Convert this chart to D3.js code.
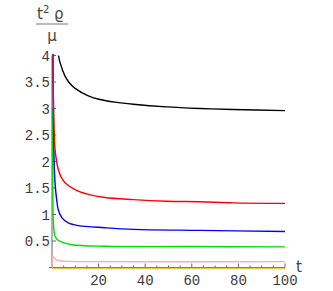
<!DOCTYPE html>
<html>
<head>
<meta charset="utf-8">
<script src="https://cdn.jsdelivr.net/npm/d3@7"></script>
<style>
  body { margin: 0; background: #fff; }
  svg { display: block; }
  .tick-label { font-family: "Liberation Mono", "DejaVu Sans Mono", monospace; font-size: 14px; fill: #3a3a3a; }
  .axis-label { font-family: "DejaVu Sans", sans-serif; font-size: 15px; fill: #444; }
</style>
</head>
<body>
<svg id="chart" width="333" height="291"></svg>
<script>
// values, [t, t^2 rho / mu]
const blackSeries = [[2.8, 4.0], [3.5, 3.86], [5.6, 3.61], [7.5, 3.48], [9.9, 3.38], [15.6, 3.24], [20.6, 3.17], [27, 3.12], [34.9, 3.08], [49.2, 3.03], [63.5, 3.0], [77.7, 2.98], [100, 2.96]];
const redSeries = [[0.35, 4.6], [0.6, 3.2], [0.9, 2.6], [1.3, 2.23], [2.7, 1.85], [4, 1.7], [5.6, 1.6], [9.9, 1.47], [15.6, 1.38], [22.7, 1.32], [34.9, 1.28], [49.2, 1.25], [63.5, 1.24], [77.7, 1.22], [100, 1.21]];
const blueSeries = [[0.35, 4.6], [0.6, 3.0], [0.9, 2.0], [1.3, 1.6], [2, 1.28], [2.7, 1.09], [4.2, 0.94], [7, 0.84], [11.3, 0.79], [22.7, 0.75], [34.9, 0.72], [63.5, 0.70], [100, 0.68]];
const greenSeries = [[0.2, 3.0], [0.35, 1.5], [0.6, 0.85], [1.3, 0.59], [2.5, 0.52], [4.2, 0.48], [8.4, 0.43], [22.7, 0.40], [60, 0.395], [100, 0.39]];
const pinkSeries = [[0.1, 0.0], [0.2, 0.21], [0.8, 0.19], [2, 0.14], [5, 0.12], [20, 0.11], [100, 0.11]];
const yellowSeries = [[0, -0.02], [100, -0.02]];

const xTicks = [20, 40, 60, 80, 100];
const yTicks = [0.5, 1, 1.5, 2, 2.5, 3, 3.5, 4];

const series = [
  { data: yellowSeries, color: '#e8c84c' },
  { data: pinkSeries, color: '#ffa8a8' },
  { data: greenSeries, color: '#00dd00' },
  { data: blueSeries, color: '#0000ff' },
  { data: redSeries, color: '#ff0000' },
  { data: blackSeries, color: '#000000' }
];

const svg = d3.select('#chart');

const x = d3.scaleLinear().domain([0, 100]).range([52, 285]);
const y = d3.scaleLinear().domain([0, 4]).range([267.5, 55.5]);

svg.append('clipPath').attr('id', 'plot')
  .append('rect')
  .attr('x', 50).attr('y', 54)
  .attr('width', 240).attr('height', 220);

// axes
svg.append('line')
  .attr('x1', 49).attr('x2', x(100))
  .attr('y1', y(0)).attr('y2', y(0))
  .attr('stroke', '#666');
svg.append('line')
  .attr('x1', x(0)).attr('x2', x(0))
  .attr('y1', y(0)).attr('y2', y(4))
  .attr('stroke', '#666');

// x ticks: minor every 5, major every 20
svg.selectAll('.xminor')
  .data(d3.range(5, 101, 5))
  .join('line')
  .attr('x1', d => x(d)).attr('x2', d => x(d))
  .attr('y1', y(0)).attr('y2', d => y(0) - (d % 20 === 0 ? 4 : 2))
  .attr('stroke', '#666');

svg.selectAll('.xlab')
  .data(xTicks)
  .join('text')
  .attr('class', 'tick-label')
  .attr('x', d => x(d))
  .attr('y', 285)
  .attr('text-anchor', 'middle')
  .text(d => d);

svg.selectAll('.ytick')
  .data(yTicks)
  .join('line')
  .attr('x1', x(0)).attr('x2', x(0) + 4)
  .attr('y1', d => y(d)).attr('y2', d => y(d))
  .attr('stroke', '#666');

svg.selectAll('.ylab')
  .data(yTicks)
  .join('text')
  .attr('class', 'tick-label')
  .attr('x', 50)
  .attr('y', d => y(d) + 5)
  .attr('text-anchor', 'end')
  .text(d => d);

// curves
const line = d3.line()
  .x(d => x(d[0]))
  .y(d => y(d[1]))
  .curve(d3.curveCatmullRom.alpha(0.5));

svg.append('g')
  .attr('clip-path', 'url(#plot)')
  .selectAll('path')
  .data(series)
  .join('path')
  .attr('d', d => line(d.data))
  .attr('fill', 'none')
  .attr('stroke', d => d.color)
  .attr('stroke-width', 1.4);

// axis labels
svg.append('text')
  .attr('class', 'axis-label')
  .attr('x', 296).attr('y', 272)
  .text('t');

const num = svg.append('text')
  .attr('class', 'axis-label')
  .attr('x', 37).attr('y', 19);
num.append('tspan').text('t');
num.append('tspan').attr('dy', -6).attr('font-size', 10).text('2');
num.append('tspan').attr('dy', 6).text(' \u03f1');

svg.append('line')
  .attr('x1', 36).attr('x2', 68)
  .attr('y1', 24).attr('y2', 24)
  .attr('stroke', '#777');

svg.append('text')
  .attr('class', 'axis-label')
  .attr('x', 52).attr('y', 41)
  .attr('text-anchor', 'middle')
  .text('\u03bc');
</script>
</body>
</html>
